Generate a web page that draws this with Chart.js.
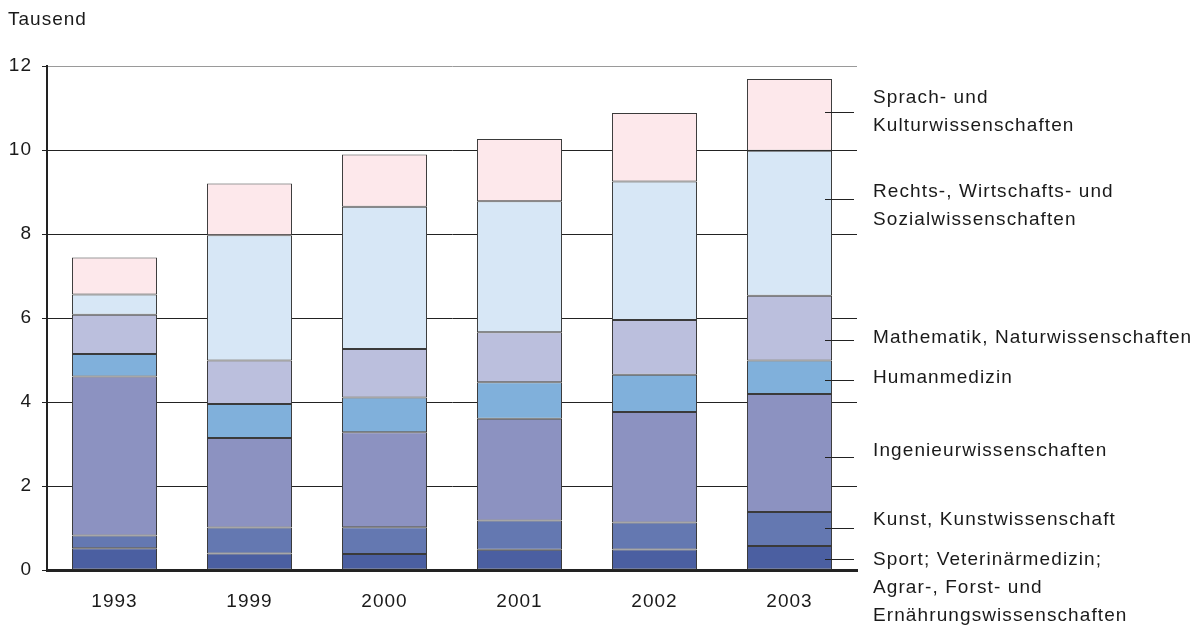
<!DOCTYPE html>
<html lang="de">
<head>
    <meta charset="UTF-8">
    <title>Tausend</title>
    <script src="https://cdn.jsdelivr.net/npm/chart.js"></script>
    <style>
        html, body { margin: 0; padding: 0; background: #fff; }
        #wrap { position: relative; width: 1201px; height: 628px; }
    </style>
</head>
<body>
    <div id="wrap"><canvas id="chart"></canvas></div>
    <script>
        // Daten (in Tausend)
        const years = ['1993', '1999', '2000', '2001', '2002', '2003'];
        const yTicks = [0, 2, 4, 6, 8, 10, 12];

        const sport  = [0.52, 0.39, 0.38, 0.48, 0.49, 0.57];
        const kunst  = [0.30, 0.62, 0.64, 0.70, 0.64, 0.81];
        const ingen  = [3.79, 2.13, 2.26, 2.42, 2.63, 2.81];
        const human  = [0.53, 0.81, 0.83, 0.87, 0.89, 0.80];
        const mathe  = [0.94, 1.04, 1.15, 1.19, 1.30, 1.54];
        const rechts = [0.48, 2.98, 3.39, 3.12, 3.30, 3.45];
        const sprach = [0.88, 1.23, 1.24, 1.48, 1.63, 1.71];

        const seriesNames = [
            ['Sport; Veterinärmedizin;', 'Agrar-, Forst- und', 'Ernährungswissenschaften'],
            ['Kunst, Kunstwissenschaft'],
            ['Ingenieurwissenschaften'],
            ['Humanmedizin'],
            ['Mathematik, Naturwissenschaften'],
            ['Rechts-, Wirtschafts- und', 'Sozialwissenschaften'],
            ['Sprach- und', 'Kulturwissenschaften']
        ];
        const seriesData = [sport, kunst, ingen, human, mathe, rechts, sprach];
        const colors = ['#4b5fa1', '#6478b1', '#8c92c1', '#80b0db', '#bbbfdd', '#d7e7f6', '#fde8eb'];

        // Lage der Beschriftungen rechts (Achsenwerte)
        const leaderAt = [0.26, 1.0, 2.69, 4.52, 5.48, 8.83, 10.9];
        const textAt   = [0.24, 1.19, 2.83, 4.57, 5.52, 9.0, 11.24];

        const FONT = '"Liberation Sans", Arial, sans-serif';

        // etwas gesperrte Schrift wie im Original
        const spacing = {
            id: 'spacing',
            beforeLayout(chart) { chart.ctx.letterSpacing = '1px'; },
            beforeDraw(chart) { chart.ctx.letterSpacing = '1px'; }
        };

        const sideLabels = {
            id: 'sideLabels',
            afterDraw(chart) {
                const ctx = chart.ctx;
                const y = chart.scales.y;
                ctx.save();
                ctx.strokeStyle = '#222';
                ctx.lineWidth = 1;
                leaderAt.forEach(v => {
                    const py = Math.round(y.getPixelForValue(v)) + 0.5;
                    ctx.beginPath();
                    ctx.moveTo(825, py);
                    ctx.lineTo(854, py);
                    ctx.stroke();
                });
                ctx.fillStyle = '#1a1a1a';
                ctx.font = '19px ' + FONT;
                ctx.letterSpacing = '1.1px';
                ctx.textBaseline = 'middle';
                ctx.textAlign = 'left';
                seriesNames.forEach((lines, i) => {
                    const py = y.getPixelForValue(textAt[i]);
                    lines.forEach((t, k) => ctx.fillText(t, 873, py + k * 28));
                });
                ctx.letterSpacing = '1px';
                ctx.fillText('Tausend', 8, 20);
                ctx.restore();
            }
        };

        new Chart(document.getElementById('chart'), {
            type: 'bar',
            data: {
                labels: years,
                datasets: seriesData.map((d, i) => ({
                    label: seriesNames[i].join(' '),
                    data: d,
                    backgroundColor: colors[i],
                    borderColor: '#3a3a3a',
                    borderWidth: 1,
                    borderSkipped: false,
                    barPercentage: 0.63,
                    categoryPercentage: 1
                }))
            },
            options: {
                responsive: true,
                maintainAspectRatio: false,
                animation: false,
                layout: { padding: { left: 0, right: 344, top: 66, bottom: 0 } },
                plugins: {
                    legend: { display: false },
                    tooltip: { enabled: false }
                },
                scales: {
                    x: {
                        stacked: true,
                        grid: { display: false, drawTicks: false },
                        border: { color: '#222', width: 3 },
                        ticks: {
                            color: '#1a1a1a',
                            padding: 20,
                            font: { family: FONT, size: 19 }
                        },
                        afterFit(scale) { scale.height = 58; }
                    },
                    y: {
                        stacked: true,
                        min: 0,
                        max: 12,
                        afterBuildTicks(scale) { scale.ticks = yTicks.map(v => ({ value: v })); },
                        grid: {
                            color: ctx => ctx.tick && ctx.tick.value === 12 ? '#9a9a9a' : '#222',
                            lineWidth: 1,
                            tickLength: 5,
                            tickColor: '#222'
                        },
                        border: { color: '#222', width: 2 },
                        ticks: {
                            color: '#1a1a1a',
                            padding: 10,
                            font: { family: FONT, size: 19 }
                        },
                        afterFit(scale) { scale.width = 47; }
                    }
                }
            },
            plugins: [spacing, sideLabels]
        });
    </script>
</body>
</html>
